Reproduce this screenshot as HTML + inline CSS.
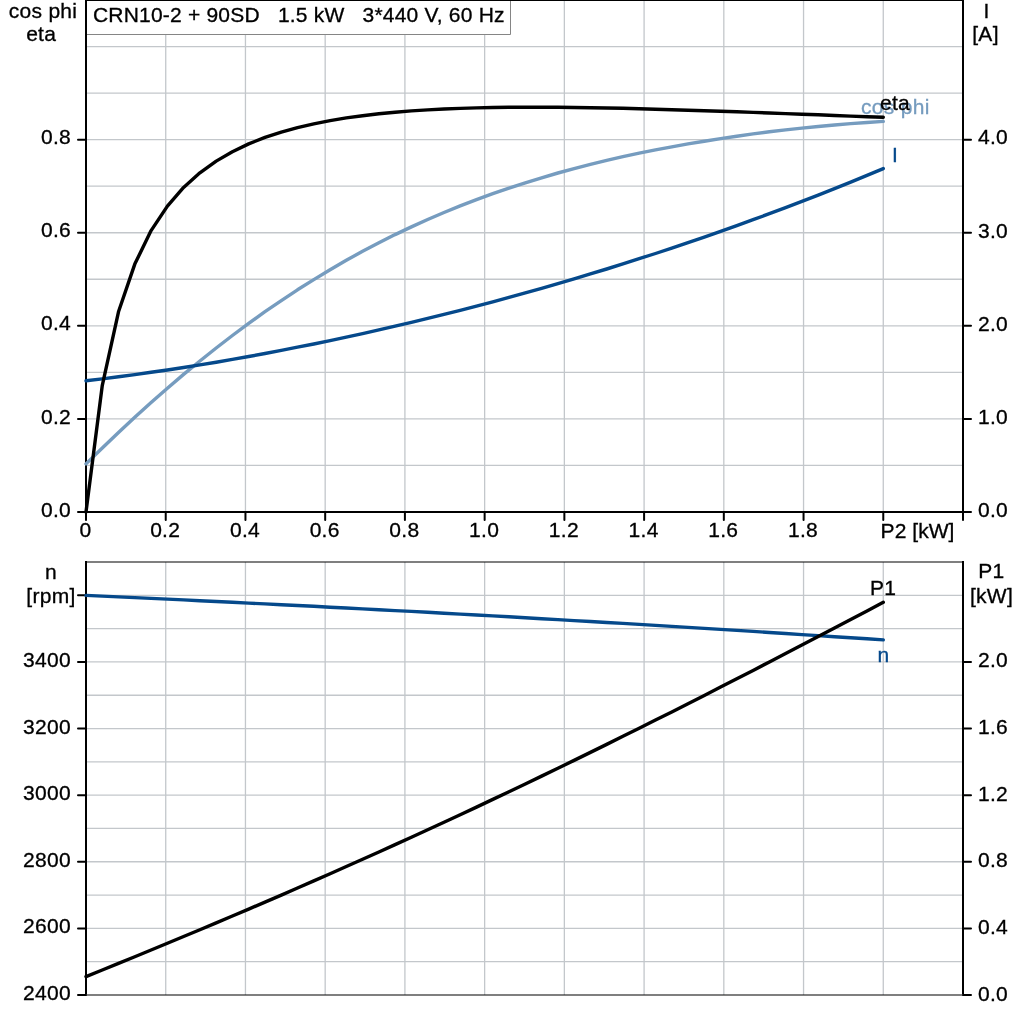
<!DOCTYPE html>
<html><head><meta charset="utf-8"><title>CRN10-2 + 90SD motor curves</title>
<style>html,body{margin:0;padding:0;background:#fff}svg{display:block}text{font-family:"Liberation Sans",Arial,Helvetica,sans-serif;font-size:21px;fill:#000;stroke:#000;stroke-width:0.32px;letter-spacing:0.3px}</style></head><body>
<svg width="1024" height="1024" viewBox="0 0 1024 1024">
<rect width="1024" height="1024" fill="#fff"/>
<g stroke="#c3c7cb" stroke-width="1.3"><line x1="87" x2="962" y1="465.45" y2="465.45"/><line x1="87" x2="962" y1="418.91" y2="418.91"/><line x1="87" x2="962" y1="372.36" y2="372.36"/><line x1="87" x2="962" y1="325.82" y2="325.82"/><line x1="87" x2="962" y1="279.27" y2="279.27"/><line x1="87" x2="962" y1="232.73" y2="232.73"/><line x1="87" x2="962" y1="186.18" y2="186.18"/><line x1="87" x2="962" y1="139.64" y2="139.64"/><line x1="87" x2="962" y1="93.09" y2="93.09"/><line x1="87" x2="962" y1="46.55" y2="46.55"/><line x1="165.73" x2="165.73" y1="1" y2="511"/><line x1="245.45" x2="245.45" y1="1" y2="511"/><line x1="325.18" x2="325.18" y1="1" y2="511"/><line x1="404.91" x2="404.91" y1="1" y2="511"/><line x1="484.64" x2="484.64" y1="1" y2="511"/><line x1="564.36" x2="564.36" y1="1" y2="511"/><line x1="644.09" x2="644.09" y1="1" y2="511"/><line x1="723.82" x2="723.82" y1="1" y2="511"/><line x1="803.55" x2="803.55" y1="1" y2="511"/><line x1="883.27" x2="883.27" y1="1" y2="511"/><line x1="87" x2="962" y1="961.69" y2="961.69"/><line x1="87" x2="962" y1="928.38" y2="928.38"/><line x1="87" x2="962" y1="895.08" y2="895.08"/><line x1="87" x2="962" y1="861.77" y2="861.77"/><line x1="87" x2="962" y1="828.46" y2="828.46"/><line x1="87" x2="962" y1="795.15" y2="795.15"/><line x1="87" x2="962" y1="761.85" y2="761.85"/><line x1="87" x2="962" y1="728.54" y2="728.54"/><line x1="87" x2="962" y1="695.23" y2="695.23"/><line x1="87" x2="962" y1="661.92" y2="661.92"/><line x1="87" x2="962" y1="628.62" y2="628.62"/><line x1="87" x2="962" y1="595.31" y2="595.31"/><line x1="165.73" x2="165.73" y1="562.00" y2="995.00"/><line x1="245.45" x2="245.45" y1="562.00" y2="995.00"/><line x1="325.18" x2="325.18" y1="562.00" y2="995.00"/><line x1="404.91" x2="404.91" y1="562.00" y2="995.00"/><line x1="484.64" x2="484.64" y1="562.00" y2="995.00"/><line x1="564.36" x2="564.36" y1="562.00" y2="995.00"/><line x1="644.09" x2="644.09" y1="562.00" y2="995.00"/><line x1="723.82" x2="723.82" y1="562.00" y2="995.00"/><line x1="803.55" x2="803.55" y1="562.00" y2="995.00"/><line x1="883.27" x2="883.27" y1="562.00" y2="995.00"/></g>
<rect x="85" y="0" width="879" height="1" fill="#000"/>
<g stroke="#000" stroke-width="1.2"><line x1="86" x2="963" y1="562.00" y2="562.00"/><line x1="86" x2="963" y1="995.0" y2="995.0"/></g>
<g stroke="#000" stroke-width="2"><line x1="86.0" x2="86.0" y1="0" y2="512.0"/><line x1="963.0" x2="963.0" y1="0" y2="512.0"/><line x1="86.0" x2="963.0" y1="512.0" y2="512.0"/><line x1="86.0" x2="86.0" y1="561.00" y2="994.0"/><line x1="963.0" x2="963.0" y1="561.00" y2="994.0"/><g stroke-linecap="round"><line x1="78" x2="86.0" y1="512.00" y2="512.00"/><line x1="963.0" x2="971" y1="512.00" y2="512.00"/><line x1="78" x2="86.0" y1="418.91" y2="418.91"/><line x1="963.0" x2="971" y1="418.91" y2="418.91"/><line x1="78" x2="86.0" y1="325.82" y2="325.82"/><line x1="963.0" x2="971" y1="325.82" y2="325.82"/><line x1="78" x2="86.0" y1="232.73" y2="232.73"/><line x1="963.0" x2="971" y1="232.73" y2="232.73"/><line x1="78" x2="86.0" y1="139.64" y2="139.64"/><line x1="963.0" x2="971" y1="139.64" y2="139.64"/><line x1="86.00" x2="86.00" y1="512.0" y2="520"/><line x1="165.73" x2="165.73" y1="512.0" y2="520"/><line x1="245.45" x2="245.45" y1="512.0" y2="520"/><line x1="325.18" x2="325.18" y1="512.0" y2="520"/><line x1="404.91" x2="404.91" y1="512.0" y2="520"/><line x1="484.64" x2="484.64" y1="512.0" y2="520"/><line x1="564.36" x2="564.36" y1="512.0" y2="520"/><line x1="644.09" x2="644.09" y1="512.0" y2="520"/><line x1="723.82" x2="723.82" y1="512.0" y2="520"/><line x1="803.55" x2="803.55" y1="512.0" y2="520"/><line x1="883.27" x2="883.27" y1="512.0" y2="520"/><line x1="963.0" x2="963.0" y1="512.0" y2="520"/><line x1="78" x2="86.0" y1="995.00" y2="995.00"/><line x1="963.0" x2="971" y1="995.00" y2="995.00"/><line x1="78" x2="86.0" y1="928.38" y2="928.38"/><line x1="963.0" x2="971" y1="928.38" y2="928.38"/><line x1="78" x2="86.0" y1="861.77" y2="861.77"/><line x1="963.0" x2="971" y1="861.77" y2="861.77"/><line x1="78" x2="86.0" y1="795.15" y2="795.15"/><line x1="963.0" x2="971" y1="795.15" y2="795.15"/><line x1="78" x2="86.0" y1="728.54" y2="728.54"/><line x1="963.0" x2="971" y1="728.54" y2="728.54"/><line x1="78" x2="86.0" y1="661.92" y2="661.92"/><line x1="963.0" x2="971" y1="661.92" y2="661.92"/><line x1="78" x2="86.0" y1="595.31" y2="595.31"/></g></g>
<polyline points="86.0,463.9 102.3,448.0 118.5,432.5 134.8,417.3 151.1,402.6 167.4,388.3 183.6,374.4 199.9,361.0 216.2,348.0 232.4,335.5 248.7,323.4 265.0,311.7 281.3,300.6 297.5,289.8 313.8,279.6 330.1,269.7 346.3,260.3 362.6,251.3 378.9,242.8 395.1,234.6 411.4,226.9 427.7,219.5 444.0,212.5 460.2,205.9 476.5,199.6 492.8,193.7 509.0,188.1 525.3,182.8 541.6,177.8 557.9,173.0 574.1,168.6 590.4,164.4 606.7,160.4 622.9,156.7 639.2,153.2 655.5,149.9 671.8,146.8 688.0,143.9 704.3,141.2 720.6,138.6 736.8,136.2 753.1,133.9 769.4,131.8 785.6,129.9 801.9,128.1 818.2,126.5 834.5,125.0 850.7,123.6 867.0,122.5 883.3,121.4" fill="none" stroke="#769cbf" stroke-width="3.4" stroke-linejoin="round" stroke-linecap="round"/>
<polyline points="86.0,380.8 102.3,378.9 118.5,376.8 134.8,374.6 151.1,372.3 167.4,370.0 183.6,367.5 199.9,364.9 216.2,362.2 232.4,359.4 248.7,356.5 265.0,353.5 281.3,350.4 297.5,347.2 313.8,344.0 330.1,340.6 346.3,337.1 362.6,333.6 378.9,329.9 395.1,326.2 411.4,322.3 427.7,318.4 444.0,314.4 460.2,310.3 476.5,306.1 492.8,301.8 509.0,297.4 525.3,292.9 541.6,288.3 557.9,283.6 574.1,278.8 590.4,273.9 606.7,269.0 622.9,263.9 639.2,258.7 655.5,253.5 671.8,248.1 688.0,242.6 704.3,237.1 720.6,231.4 736.8,225.6 753.1,219.7 769.4,213.7 785.6,207.6 801.9,201.4 818.2,195.1 834.5,188.6 850.7,182.1 867.0,175.4 883.3,168.6" fill="none" stroke="#05498b" stroke-width="3.4" stroke-linejoin="round" stroke-linecap="round"/>
<polyline points="86.0,512.0 102.3,385.3 118.5,311.8 134.8,264.1 151.1,230.6 167.4,206.1 183.6,187.4 199.9,172.8 216.2,161.1 232.4,151.7 248.7,143.9 265.0,137.4 281.3,132.1 297.5,127.6 313.8,123.8 330.1,120.6 346.3,117.9 362.6,115.7 378.9,113.8 395.1,112.2 411.4,110.9 427.7,109.9 444.0,109.0 460.2,108.4 476.5,107.9 492.8,107.5 509.0,107.3 525.3,107.2 541.6,107.2 557.9,107.3 574.1,107.5 590.4,107.7 606.7,108.0 622.9,108.3 639.2,108.7 655.5,109.2 671.8,109.7 688.0,110.2 704.3,110.7 720.6,111.3 736.8,111.8 753.1,112.4 769.4,113.0 785.6,113.6 801.9,114.2 818.2,114.8 834.5,115.5 850.7,116.1 867.0,116.7 883.3,117.3" fill="none" stroke="#000" stroke-width="3.4" stroke-linejoin="round" stroke-linecap="round"/>
<polyline points="86.0,595.4 102.3,596.1 118.5,596.9 134.8,597.6 151.1,598.4 167.4,599.1 183.6,599.9 199.9,600.7 216.2,601.5 232.4,602.3 248.7,603.1 265.0,603.9 281.3,604.7 297.5,605.5 313.8,606.3 330.1,607.2 346.3,608.0 362.6,608.9 378.9,609.7 395.1,610.6 411.4,611.4 427.7,612.3 444.0,613.2 460.2,614.1 476.5,615.0 492.8,615.9 509.0,616.8 525.3,617.8 541.6,618.7 557.9,619.6 574.1,620.6 590.4,621.5 606.7,622.5 622.9,623.4 639.2,624.4 655.5,625.4 671.8,626.4 688.0,627.4 704.3,628.4 720.6,629.4 736.8,630.4 753.1,631.4 769.4,632.5 785.6,633.5 801.9,634.6 818.2,635.6 834.5,636.7 850.7,637.7 867.0,638.8 883.3,639.9" fill="none" stroke="#05498b" stroke-width="3.4" stroke-linejoin="round" stroke-linecap="round"/>
<polyline points="86.0,976.6 102.3,970.0 118.5,963.4 134.8,956.7 151.1,950.0 167.4,943.3 183.6,936.5 199.9,929.7 216.2,922.9 232.4,916.0 248.7,909.1 265.0,902.1 281.3,895.1 297.5,888.0 313.8,880.9 330.1,873.7 346.3,866.5 362.6,859.3 378.9,852.0 395.1,844.6 411.4,837.2 427.7,829.8 444.0,822.3 460.2,814.7 476.5,807.1 492.8,799.4 509.0,791.7 525.3,784.0 541.6,776.1 557.9,768.3 574.1,760.4 590.4,752.4 606.7,744.4 622.9,736.3 639.2,728.2 655.5,720.1 671.8,711.9 688.0,703.7 704.3,695.4 720.6,687.1 736.8,678.7 753.1,670.4 769.4,661.9 785.6,653.5 801.9,645.0 818.2,636.5 834.5,628.0 850.7,619.4 867.0,610.9 883.3,602.3" fill="none" stroke="#000" stroke-width="3.4" stroke-linejoin="round" stroke-linecap="round"/>
<rect x="87" y="1" width="423" height="33" fill="#fff"/><path d="M510.5 1V34.5H87" fill="none" stroke="#858585" stroke-width="1"/>
<text x="93" y="21.9" xml:space="preserve" style="letter-spacing:0;white-space:pre" textLength="411.5" lengthAdjust="spacing">CRN10-2 + 90SD   1.5 kW   3*440 V, 60 Hz</text>
<text x="43" y="18.4" text-anchor="middle">cos phi</text><text x="41.2" y="41" text-anchor="middle">eta</text><text x="986.5" y="17.5" text-anchor="middle">I</text><text x="985.5" y="40.5" text-anchor="middle">[A]</text><text x="71" y="516.6" text-anchor="end">0.0</text><text x="71" y="423.5" text-anchor="end">0.2</text><text x="71" y="330.4" text-anchor="end">0.4</text><text x="71" y="237.3" text-anchor="end">0.6</text><text x="71" y="144.2" text-anchor="end">0.8</text><text x="978" y="516.8">0.0</text><text x="978" y="423.7">1.0</text><text x="978" y="330.6">2.0</text><text x="978" y="237.5">3.0</text><text x="978" y="144.4">4.0</text><text x="85.5" y="537.2" text-anchor="middle">0</text><text x="165.2" y="537.2" text-anchor="middle">0.2</text><text x="245.0" y="537.2" text-anchor="middle">0.4</text><text x="324.7" y="537.2" text-anchor="middle">0.6</text><text x="404.4" y="537.2" text-anchor="middle">0.8</text><text x="484.1" y="537.2" text-anchor="middle">1.0</text><text x="563.9" y="537.2" text-anchor="middle">1.2</text><text x="643.6" y="537.2" text-anchor="middle">1.4</text><text x="723.3" y="537.2" text-anchor="middle">1.6</text><text x="803.0" y="537.2" text-anchor="middle">1.8</text><text x="880.6" y="538" style="letter-spacing:0.05px">P2 [kW]</text><text x="51" y="578.5" text-anchor="middle">n</text><text x="51" y="603.2" text-anchor="middle">[rpm]</text><text x="991.3" y="578" text-anchor="middle">P1</text><text x="991.5" y="603.2" text-anchor="middle">[kW]</text><text x="71" y="1000.0" text-anchor="end">2400</text><text x="71" y="933.4" text-anchor="end">2600</text><text x="71" y="866.8" text-anchor="end">2800</text><text x="71" y="800.2" text-anchor="end">3000</text><text x="71" y="733.5" text-anchor="end">3200</text><text x="71" y="666.9" text-anchor="end">3400</text><text x="978" y="1000.5">0.0</text><text x="978" y="933.9">0.4</text><text x="978" y="867.3">0.8</text><text x="978" y="800.7">1.2</text><text x="978" y="734.0">1.6</text><text x="978" y="667.4">2.0</text><text x="861" y="114" style="fill:#769cbf;stroke:#769cbf">cos phi</text><text x="880" y="109.5">eta</text><text x="892" y="162" style="fill:#05498b;stroke:#05498b">I</text><text x="870" y="594.5">P1</text><text x="877.5" y="661.5" style="fill:#05498b;stroke:#05498b">n</text>
</svg></body></html>
